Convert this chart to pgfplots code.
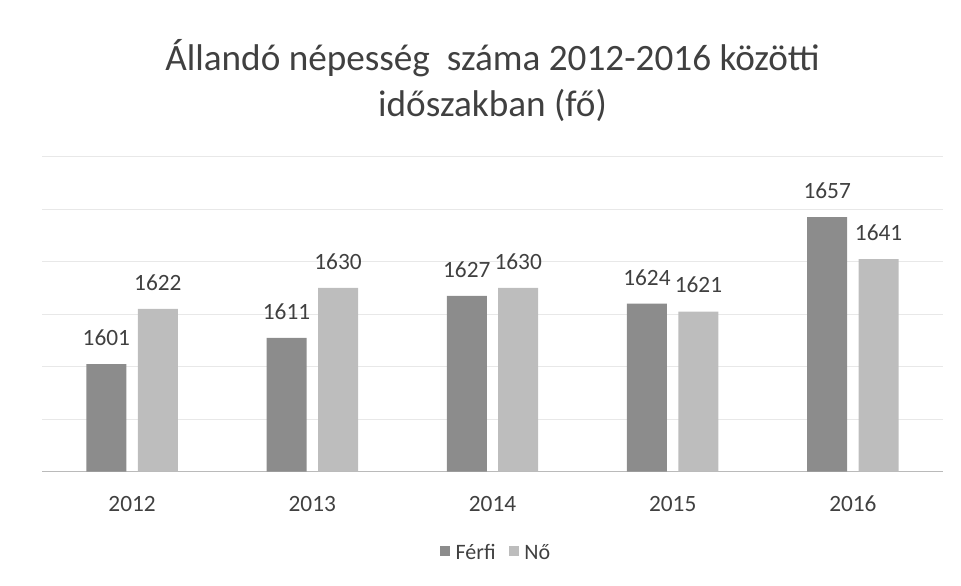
\documentclass[border=0pt]{standalone}
\usepackage{fontspec}
\setmainfont{Carlito}
\usepackage{pgfplots}
\pgfplotsset{compat=1.18}

\definecolor{ferfi}{HTML}{8C8C8C}
\definecolor{nok}{HTML}{BDBDBD}
\definecolor{txt}{HTML}{404040}
\definecolor{gridc}{HTML}{E8E8E8}

\begin{document}
\begin{tikzpicture}
\begin{axis}[
    scale only axis,
    width=675.75pt,
    height=236.25pt,
    clip=false,
    ybar=8.6pt,
    bar width=30pt,
    ymin=1560, ymax=1680,
    ytick={1560,1580,...,1680},
    yticklabels={},
    ytick style={draw=none},
    ymajorgrids,
    grid style={gridc, line width=0.6pt},
    axis x line*=bottom,
    axis y line*=left,
    y axis line style={draw=none},
    x axis line style={draw=gridc!80!black, line width=0.6pt},
    xmin=-0.5, xmax=4.5,
    xtick=data,
    xticklabels={2012,2013,2014,2015,2016},
    xtick style={draw=none},
    xticklabel style={font=\fontsize{17.5}{20}\selectfont, text=txt, anchor=base, yshift=-25.5pt},
    nodes near coords,
    /pgf/number format/.cd, 1000 sep={}, assume math mode=true, /pgfplots/.cd,
    every node near coord/.append style={font=\fontsize{17.5}{20}\selectfont, text=txt, anchor=base, yshift=14pt},
    legend image code/.code={
        \fill[#1] (0pt,-2.6pt) rectangle (7.5pt,4.9pt);
    },
    legend style={
        at={(0.5,0)}, anchor=center, yshift=-60.75pt, xshift=4pt,
        draw=none, legend columns=2,
        font=\fontsize{16.5}{19}\selectfont, text=txt,
        nodes={inner xsep=4pt},
        /tikz/every even column/.append style={column sep=6pt}
    },
]
\addplot[fill=ferfi, draw=none] coordinates {(0,1601) (1,1611) (2,1627) (3,1624) (4,1657)};
\addplot[fill=nok, draw=none] coordinates {(0,1622) (1,1630) (2,1630) (3,1621) (4,1641)};
\legend{Férfi, Nő}

\node[font=\fontsize{27.9}{34}\selectfont, text=txt, align=center]
    at ([yshift=57pt]rel axis cs:0.5,1) {Állandó népesség\ \ száma 2012-2016 közötti\\időszakban (fő)};
\path (rel axis cs:0,0) ++(-31.5pt,-85pt);
\path (rel axis cs:1,1) ++(13.5pt,117.5pt);
\end{axis}
\end{tikzpicture}
\end{document}
